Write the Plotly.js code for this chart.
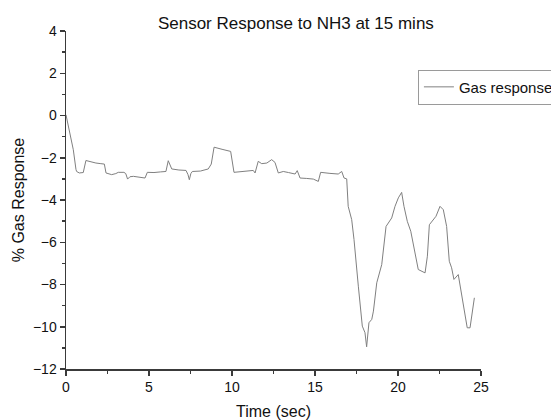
<!DOCTYPE html>
<html>
<head>
<meta charset="utf-8">
<script src="https://cdn.plot.ly/plotly-3.0.1.min.js"></script>
<style>html,body{margin:0;padding:0;background:#fff}#chart{width:551px;height:420px}</style>
</head>
<body>
<div id="chart"></div>
<script>
const seriesName = "Gas response";
const timeSec = [
  0, 0.2, 0.44, 0.6, 0.64, 0.8, 1.04, 1.2, 1.5, 1.8,
  2.1, 2.31, 2.41, 2.75, 3.0, 3.15, 3.49, 3.6, 3.71, 3.85,
  4.06, 4.4, 4.76, 4.9, 5.3, 5.7, 6.02, 6.16, 6.3, 6.37,
  6.8, 7.23, 7.35, 7.43, 7.52, 7.61, 8.1, 8.57, 8.75, 8.92,
  9.4, 9.92, 10.12, 10.6, 11.28, 11.39, 11.58, 11.79, 12.1, 12.39,
  12.59, 12.79, 13.09, 13.4, 13.8, 13.93, 14.1, 14.5, 14.9, 15.2,
  15.34, 15.9, 16.4, 16.61, 16.75, 16.91, 17.0, 17.21, 17.35, 17.61,
  17.85, 18.01, 18.11, 18.25, 18.42, 18.52, 18.72, 19.02, 19.28, 19.62,
  19.82, 20.02, 20.22, 20.36, 20.56, 20.77, 21.02, 21.22, 21.63, 21.77,
  21.89, 22.03, 22.29, 22.53, 22.73, 22.93, 23.09, 23.23, 23.37, 23.63,
  23.73, 23.9, 24.04, 24.17, 24.34, 24.5, 24.6
];
const gasResponse = [
  0.03, -0.7, -1.62, -2.55, -2.65, -2.72, -2.7, -2.13, -2.2, -2.25,
  -2.28, -2.3, -2.72, -2.8, -2.75, -2.69, -2.69, -2.75, -3.01, -2.9,
  -2.88, -2.92, -2.96, -2.69, -2.7, -2.67, -2.65, -2.14, -2.45, -2.53,
  -2.58, -2.6, -2.8, -3.04, -2.75, -2.65, -2.63, -2.53, -2.3, -1.5,
  -1.6, -1.7, -2.69, -2.65, -2.6, -2.72, -2.17, -2.28, -2.25, -2.09,
  -2.22, -2.72, -2.65, -2.7, -2.77, -2.61, -2.96, -2.98, -3.01, -3.12,
  -2.69, -2.74, -2.77, -2.65, -2.96, -3.0, -4.3, -4.93, -5.87, -8.08,
  -9.97, -10.28, -10.95, -9.81, -9.65, -9.26, -7.92, -7.06, -5.25, -4.85,
  -4.3, -3.9, -3.64, -4.3, -5.01, -5.48, -6.58, -7.29, -7.45, -6.66,
  -5.17, -5.01, -4.77, -4.3, -4.46, -5.25, -6.9, -7.21, -7.76, -7.53,
  -8.0, -8.87, -9.5, -10.05, -10.05, -9.03, -8.63
];

const FONT = '"Liberation Sans", Arial, sans-serif';
const axisCommon = {
  showline: true, linecolor: '#3a3a3a', linewidth: 1.5,
  ticks: 'outside', ticklen: 5, tickwidth: 1.5, tickcolor: '#3a3a3a',
  showgrid: false, zeroline: false, mirror: false,
  tickfont: {family: FONT, size: 14, color: '#111'}
};

const trace = {
  x: timeSec, y: gasResponse, type: 'scatter', mode: 'lines',
  name: seriesName, showlegend: true,
  line: {color: '#808080', width: 1}
};

const layout = {
  width: 551, height: 420,
  margin: {l: 66, r: 70, t: 31, b: 51, autoexpand: false},
  paper_bgcolor: '#fff', plot_bgcolor: '#fff',
  font: {family: FONT, color: '#111'},
  title: {text: 'Sensor Response to NH3 at 15 mins', font: {family: FONT, size: 17, color: '#111'},
          x: 0.537, xanchor: 'center', y: 0.945, yanchor: 'middle'},
  xaxis: Object.assign({}, axisCommon, {
    range: [0, 25], tickmode: 'linear', tick0: 0, dtick: 5,
    minor: {ticks: 'outside', dtick: 2.5, ticklen: 3, tickwidth: 1.5, tickcolor: '#3a3a3a'},
    title: {text: 'Time (sec)', font: {family: FONT, size: 16, color: '#111'}, standoff: 11}
  }),
  yaxis: Object.assign({}, axisCommon, {
    range: [-12, 4], tickmode: 'linear', tick0: 0, dtick: 2,
    minor: {ticks: 'outside', dtick: 1, ticklen: 3, tickwidth: 1.5, tickcolor: '#3a3a3a'},
    title: {text: '% Gas Response', font: {family: FONT, size: 16, color: '#111'}, standoff: 4}
  }),
  legend: {x: 0.848, y: 0.834, xanchor: 'left', yanchor: 'middle',
           bgcolor: '#fff', bordercolor: '#9a9a9a', borderwidth: 1,
           font: {family: FONT, size: 15, color: '#111'}, tracegroupgap: 0}
};

Plotly.newPlot('chart', [trace], layout, {displayModeBar: false, staticPlot: true});
</script>
</body>
</html>
